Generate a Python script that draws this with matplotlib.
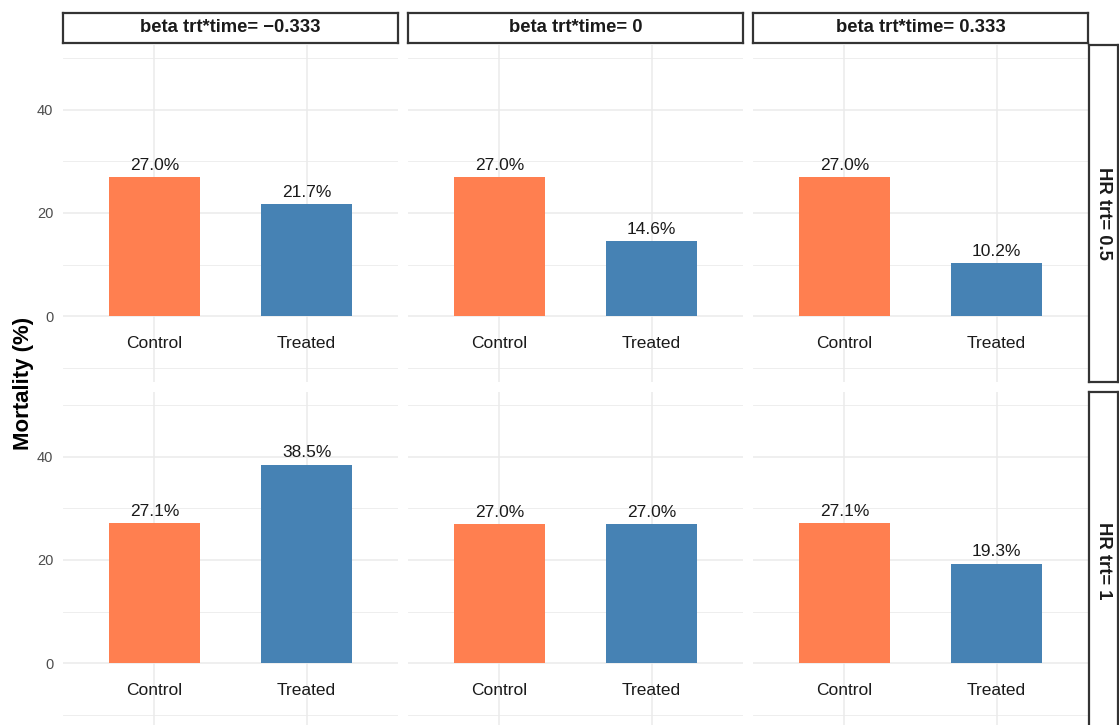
import matplotlib
matplotlib.use("Agg")
import matplotlib.pyplot as plt

plt.rcParams["font.family"] = ["Liberation Sans", "DejaVu Sans"]

# ---------------------------------------------------------------------------
# Data
# ---------------------------------------------------------------------------
col_labels = ["beta trt*time= \u22120.333", "beta trt*time= 0", "beta trt*time= 0.333"]
row_labels = ["HR trt= 0.5", "HR trt= 1"]
groups = ["Control", "Treated"]
control = [[27.0, 27.0, 27.0],
           [27.1, 27.0, 27.1]]
treated = [[21.7, 14.6, 10.2],
           [38.5, 27.0, 19.3]]

COLORS = ["#FF7F50", "#4682B4"]
W, H = 1119, 725


def px_rect(left, top, width, height):
    return [left / W, 1 - (top + height) / H, width / W, height / H]


fig = plt.figure(figsize=(W / 100, H / 100), dpi=100)
fig.patch.set_facecolor("white")

col_left = [63, 408, 753]
row_top = [45, 392]
panel_w, panel_h = 335, 337

for r in range(2):
    for c in range(3):
        ax = fig.add_axes(px_rect(col_left[c], row_top[r], panel_w, panel_h))
        vals = [control[r][c], treated[r][c]]
        xs = list(range(1, len(groups) + 1))
        ax.bar(xs, vals, width=0.6, color=COLORS, zorder=3)
        for x, v, g in zip(xs, vals, groups):
            ax.annotate(f"{v:.1f}%", (x, v), xytext=(0, 3), textcoords="offset points",
                        ha="center", va="bottom", fontsize=12.5, color="#1a1a1a", zorder=4)
            ax.text(x, -5.3, g, ha="center", va="center", fontsize=12.5,
                    color="#1a1a1a", zorder=4)

        ax.set_xlim(0.4, 2.6)
        ax.set_ylim(-12.8, 52.6)
        ax.set_xticks(xs)
        ax.set_xticklabels([])
        ax.set_yticks([0, 20, 40])
        ax.set_yticks([-10, 10, 30, 50], minor=True)
        if c == 0:
            ax.set_yticklabels(["0", "20", "40"], fontsize=10.5, color="#4D4D4D")
        else:
            ax.set_yticklabels([])
        ax.tick_params(which="both", length=0, pad=7)
        ax.grid(which="major", color="#EBEBEB", linewidth=1.1, zorder=0)
        ax.grid(which="minor", axis="y", color="#EBEBEB", linewidth=0.6, zorder=0)
        for s in ax.spines.values():
            s.set_visible(False)
        ax.set_axisbelow(True)

# facet strips
def strip(rect, label, rotation=0):
    sax = fig.add_axes(rect)
    sax.set_xticks([])
    sax.set_yticks([])
    for s in sax.spines.values():
        s.set_color("#333333")
        s.set_linewidth(1.6)
    sax.text(0.5, 0.5, label, transform=sax.transAxes, ha="center", va="center",
             fontsize=13.3, fontweight="bold", color="#1a1a1a", rotation=rotation)


for c in range(3):
    strip(px_rect(col_left[c], 13, panel_w, 30), col_labels[c])
for r in range(2):
    strip(px_rect(1089, row_top[r], 29, panel_h), row_labels[r], rotation=-90)

fig.text(24 / W, 1 - 383 / H, "Mortality (%)", rotation=90, ha="center", va="center",
         fontsize=16, fontweight="bold", color="black")

fig.savefig("out.png", dpi=100, facecolor="white")
